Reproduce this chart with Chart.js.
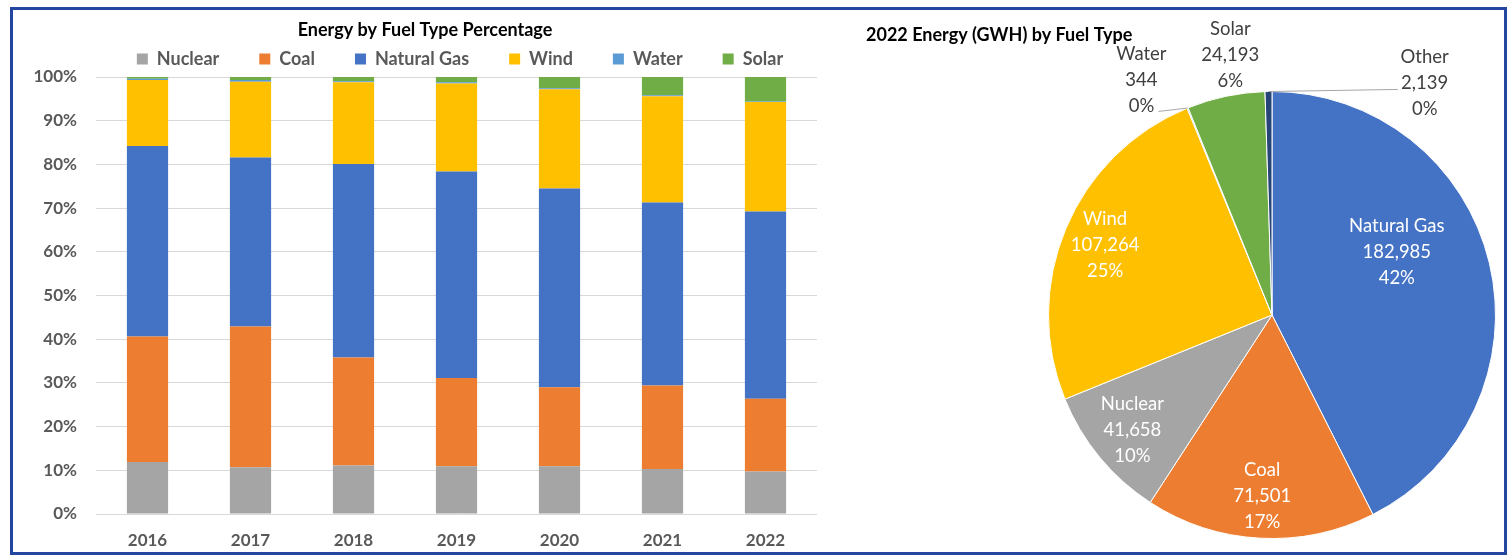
<!DOCTYPE html>
<html><head><meta charset="utf-8">
<script src="https://cdn.jsdelivr.net/npm/chart.js@4.4.1/dist/chart.umd.min.js"></script>
<style>
html,body{margin:0;padding:0;background:#fff;width:1510px;height:560px;overflow:hidden;}
#barWrap{position:absolute;left:12px;top:10px;width:896px;height:545px;}
#pieWrap{position:absolute;left:840px;top:10px;width:665px;height:545px;}
#frame{position:absolute;left:10px;top:7px;width:1497px;height:548px;border:3px solid #2346a0;box-sizing:border-box;pointer-events:none;}
</style></head><body>
<div id="barWrap"><canvas id="bar"></canvas></div>
<div id="pieWrap"><canvas id="pie"></canvas></div>
<div id="frame"></div>
<script>
// ---- data ----
const years = ['2016','2017','2018','2019','2020','2021','2022'];
const nuclearPct = [11.9,10.7,11.1,10.9,10.9,10.3,9.7];
const coalPct    = [28.7,32.2,24.7,20.2,18.1,19.1,16.7];
const gasPct     = [43.6,38.7,44.3,47.3,45.5,41.9,42.8];
const windPct    = [15.1,17.3,18.7,20.1,22.7,24.3,25.1];
const waterPct   = [0.3,0.4,0.2,0.3,0.2,0.2,0.1];
const solarPct   = [0.4,0.7,1.0,1.2,2.6,4.2,5.6];
const yTickValues = [0,10,20,30,40,50,60,70,80,90,100];

const fuelTypes2022 = ['Natural Gas','Coal','Nuclear','Wind','Water','Solar','Other'];
const energy2022    = [182985,71501,41658,107264,344,24193,2139];

const barTitle = 'Energy by Fuel Type Percentage';
const pieTitle = '2022 Energy (GWH) by Fuel Type';

// ---- styles ----
const COLORS = {Nuclear:'#A5A5A5', Coal:'#ED7D31', 'Natural Gas':'#4472C4', Wind:'#FFC000', Water:'#5B9BD5', Solar:'#70AD47', Other:'#264478'};
Chart.defaults.font.family = 'Lato, "Open Sans", sans-serif';
Chart.defaults.animation = false;

const titlePlugin = {
  id:'customTitle',
  afterDraw(chart, args, o){
    const ctx = chart.ctx; ctx.save();
    ctx.font = 'bold 18px Lato, sans-serif'; ctx.fillStyle = '#000';
    ctx.textAlign = o.align; ctx.textBaseline = 'middle';
    ctx.fillText(o.text, o.x, o.y); ctx.restore();
  }
};
const legendHeightFix = {
  id:'legendHeightFix',
  beforeLayout(chart, args, o){
    const lg = chart.legend;
    if (lg && !lg.__fixed){
      const orig = lg.fit;
      lg.fit = function(){ orig.call(this); this.height = o.height; };
      lg.__fixed = true;
    }
  }
};

const barSeries = [
  ['Nuclear', nuclearPct], ['Coal', coalPct], ['Natural Gas', gasPct],
  ['Wind', windPct], ['Water', waterPct], ['Solar', solarPct]
];

new Chart(document.getElementById('bar'), {
  type:'bar',
  data:{ labels: years, datasets: barSeries.map(([n, d]) => ({
    label:n, data:d, backgroundColor:COLORS[n], borderWidth:0,
    barPercentage:0.4, categoryPercentage:1.0 })) },
  options:{
    responsive:true, maintainAspectRatio:false,
    layout:{ padding:0 },
    plugins:{
      legend:{ position:'top', labels:{ boxWidth:11, boxHeight:11, padding:40, color:'#595959',
        font:{ size:18, weight:'bold' } } },
      tooltip:{ enabled:false },
      customTitle:{ text: barTitle, x: 413, y: 20, align:'center' },
      legendHeightFix:{ height: 67 }
    },
    scales:{
      x:{ stacked:true, grid:{ display:false, drawTicks:false }, border:{ display:false },
        ticks:{ color:'#595959', padding:16, font:{ size:17, weight:'bold' } },
        afterFit(s){ s.height = 41; } },
      y:{ stacked:true, min:0, max:100,
        afterBuildTicks(s){ s.ticks = yTickValues.map(v => ({ value:v })); },
        grid:{ color:'#d9d9d9', lineWidth:1, drawTicks:false }, border:{ display:false },
        ticks:{ color:'#595959', padding:19, font:{ size:17, weight:'bold' }, callback: v => v + '%' },
        afterFit(s){ s.width = 84; } },
      yRight:{ position:'right', min:0, max:100, display:true,
        grid:{ display:false, drawTicks:false }, border:{ display:false },
        ticks:{ display:false },
        afterFit(s){ s.width = 91; } }
    }
  },
  plugins:[titlePlugin, legendHeightFix]
});

// largest-remainder rounding so the shown percentages add to 100
function roundedPercents(vals){
  const tot = vals.reduce((a,b)=>a+b,0);
  const raw = vals.map(v => v/tot*100);
  const fl = raw.map(Math.floor);
  let left = 100 - fl.reduce((a,b)=>a+b,0);
  const order = raw.map((r,i)=>[r-fl[i], i]).sort((a,b)=>b[0]-a[0]);
  for (let k=0; k<left; k++) fl[order[k][1]]++;
  return fl;
}

const pieLabels = {
  id:'pieLabels',
  afterDatasetsDraw(chart, args, o){
    const ctx = chart.ctx;
    const meta = chart.getDatasetMeta(0);
    const data = chart.data.datasets[0].data;
    const labels = chart.data.labels;
    const pcts = roundedPercents(data);
    ctx.save();
    ctx.font = '18.5px Lato, sans-serif';
    ctx.textAlign = 'center'; ctx.textBaseline = 'middle';
    meta.data.forEach((arc, i) => {
      const p = arc.getProps(['x','y','startAngle','endAngle','outerRadius'], true);
      const place = o.placement[labels[i]] || {};
      const mid = (p.startAngle + p.endAngle)/2;
      const ang = place.angle !== undefined ? (place.angle - 90) * Math.PI/180 : mid;
      const dist = (place.dist !== undefined ? place.dist : o.dist) * p.outerRadius;
      const cx = p.x + Math.cos(ang)*dist, cy = p.y + Math.sin(ang)*dist;
      if (place.leader){
        ctx.strokeStyle = '#a6a6a6'; ctx.lineWidth = 1;
        ctx.beginPath();
        ctx.moveTo(cx + place.leader[0], cy + place.leader[1]);
        ctx.lineTo(p.x + Math.cos(mid)*p.outerRadius, p.y + Math.sin(mid)*p.outerRadius);
        ctx.stroke();
      }
      ctx.fillStyle = place.outside ? '#404040' : '#ffffff';
      const lines = [labels[i], data[i].toLocaleString('en-US'), pcts[i] + '%'];
      lines.forEach((t, k) => ctx.fillText(t, cx, cy + (k-1)*o.lineHeight));
    });
    ctx.restore();
  }
};

new Chart(document.getElementById('pie'), {
  type:'pie',
  data:{ labels: fuelTypes2022, datasets:[{ data: energy2022,
    backgroundColor: fuelTypes2022.map(n => COLORS[n]), borderColor:'#ffffff', borderWidth:1 }] },
  options:{
    responsive:true, maintainAspectRatio:false,
    layout:{ padding:{ left:208, right:9, top:81, bottom:16 } },
    plugins:{
      legend:{ display:false }, tooltip:{ enabled:false },
      customTitle:{ text: pieTitle, x: 26, y: 25, align:'left' },
      pieLabels:{ dist:0.81, lineHeight:26, placement:{
        'Natural Gas':{ angle:63.3, dist:0.625 },
        'Water':{ angle:330.9, dist:1.201, outside:true, leader:[17, 31] },
        'Solar':{ angle:350.9, dist:1.180, outside:true },
        'Other':{ angle:33.4, dist:1.241, outside:true, leader:[-27, 6] }
      } }
    }
  },
  plugins:[titlePlugin, pieLabels]
});
</script>
</body></html>
